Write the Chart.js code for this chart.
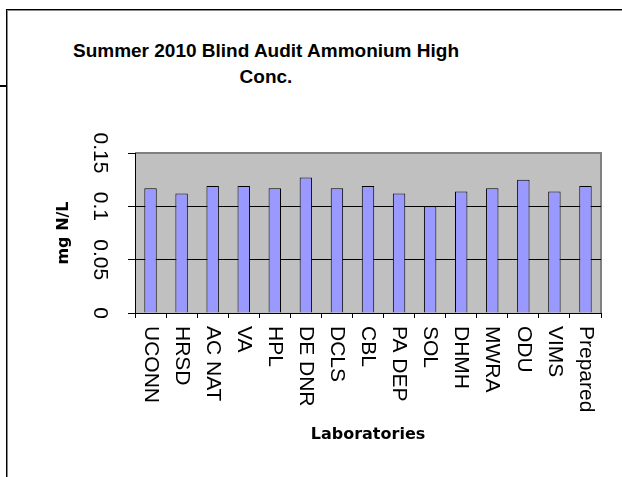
<!DOCTYPE html>
<html>
<head>
<meta charset="utf-8">
<script src="https://cdn.jsdelivr.net/npm/chart.js@4"></script>
<style>
  html, body { margin: 0; padding: 0; background: #fff; }
  #wrap { position: relative; width: 622px; height: 477px; overflow: hidden; }
  #frame { position: absolute; left: 6px; top: 9px; width: 700px; height: 600px;
           border-top: 1px solid #000; border-left: 1px solid #000;
           box-shadow: inset 1px 1px 0 #8a8a8a; }
  #stub { position: absolute; left: 0; top: 85px; width: 6px; height: 2px; background: #000; }
  #title { position: absolute; left: 0; top: 38px; width: 532px; text-align: center;
           font: bold 19px "Liberation Sans", Arial, sans-serif; line-height: 26px; color: #000; }
  #c { position: absolute; left: 0; top: 0; }
</style>
</head>
<body>
<div id="wrap">
  <div id="frame"></div>
  <div id="stub"></div>
  <div id="title">Summer 2010 Blind Audit Ammonium High<br>Conc.</div>
  <canvas id="c" width="622" height="477"></canvas>
</div>
<script>
// Laboratories and their reported ammonium results (mg N/L)
const laboratories = ['UCONN', 'HRSD', 'AC NAT', 'VA', 'HPL', 'DE DNR', 'DCLS', 'CBL',
                      'PA DEP', 'SOL', 'DHMH', 'MWRA', 'ODU', 'VIMS', 'Prepared'];
const ammonium = [0.117, 0.112, 0.119, 0.119, 0.117, 0.127, 0.117, 0.119,
                  0.112, 0.100, 0.114, 0.117, 0.125, 0.114, 0.119];
const yTickValues = [0, 0.05, 0.1, 0.15];
const yTitle = 'mg N/L';
const xTitle = 'Laboratories';

// Category axis whose rotated labels hang downward from the tick
class DownCategoryScale extends Chart.CategoryScale {
  _getXAxisLabelAlignment() { return 'left'; }
}
DownCategoryScale.id = 'categoryDown';
DownCategoryScale.defaults = Chart.CategoryScale.defaults;
Chart.register(DownCategoryScale);

// Grey plot area with a grey frame on the top and right
const plotBackground = {
  id: 'plotBackground',
  beforeDraw(chart) {
    const { ctx, chartArea: a } = chart;
    ctx.save();
    ctx.fillStyle = '#C0C0C0';
    ctx.fillRect(a.left, a.top, a.right - a.left, a.bottom - a.top);
    ctx.strokeStyle = '#808080';
    ctx.lineWidth = 2;
    ctx.beginPath();
    ctx.moveTo(a.left, a.top);
    ctx.lineTo(a.right, a.top);
    ctx.lineTo(a.right, a.bottom);
    ctx.stroke();
    ctx.restore();
  }
};

const labelFont = { family: '"Liberation Sans", Arial, sans-serif', size: 21, weight: 'normal' };
const titleFont = { family: '"DejaVu Sans", Verdana, sans-serif', size: 16, weight: 'bold' };

new Chart(document.getElementById('c'), {
  type: 'bar',
  data: {
    labels: laboratories,
    datasets: [{
      data: ammonium,
      backgroundColor: '#9999FF',
      borderColor: '#000000',
      borderWidth: 1,
      barPercentage: 0.4,
      categoryPercentage: 1.0
    }]
  },
  options: {
    responsive: false,
    animation: false,
    events: [],
    layout: { padding: { left: 50, right: 21, top: 153, bottom: 33 } },
    plugins: { legend: { display: false }, tooltip: { enabled: false }, title: { display: false } },
    scales: {
      x: {
        type: 'categoryDown',
        offset: true,
        grid: { offset: true, drawOnChartArea: false, drawTicks: true, tickLength: 5, color: '#000' },
        border: { display: true, color: '#000', width: 1 },
        ticks: {
          font: labelFont, color: '#000', minRotation: -90, maxRotation: -90,
          autoSkip: false, padding: 8
        },
        title: { display: true, text: xTitle, font: titleFont, color: '#000', padding: { top: 0, bottom: 0 } },
        afterFit(scale) { scale.height = 131; }
      },
      y: {
        min: 0,
        max: 0.15,
        afterBuildTicks(scale) { scale.ticks = yTickValues.map(v => ({ value: v })); },
        grid: {
          color: ctx => (ctx.tick && ctx.tick.value === 0.15 ? '#808080' : '#000'),
          tickColor: '#000',
          tickLength: 7,
          lineWidth: 1
        },
        border: { display: true, color: '#000', width: 1 },
        ticks: {
          font: labelFont, color: '#000', minRotation: -90, maxRotation: -90,
          crossAlign: 'center', padding: 8,
          callback: v => String(v)
        },
        title: { display: true, text: yTitle, font: titleFont, color: '#000', padding: { top: 4, bottom: 0 } },
        afterFit(scale) { scale.width = 85; }
      }
    }
  },
  plugins: [plotBackground]
});
</script>
</body>
</html>
